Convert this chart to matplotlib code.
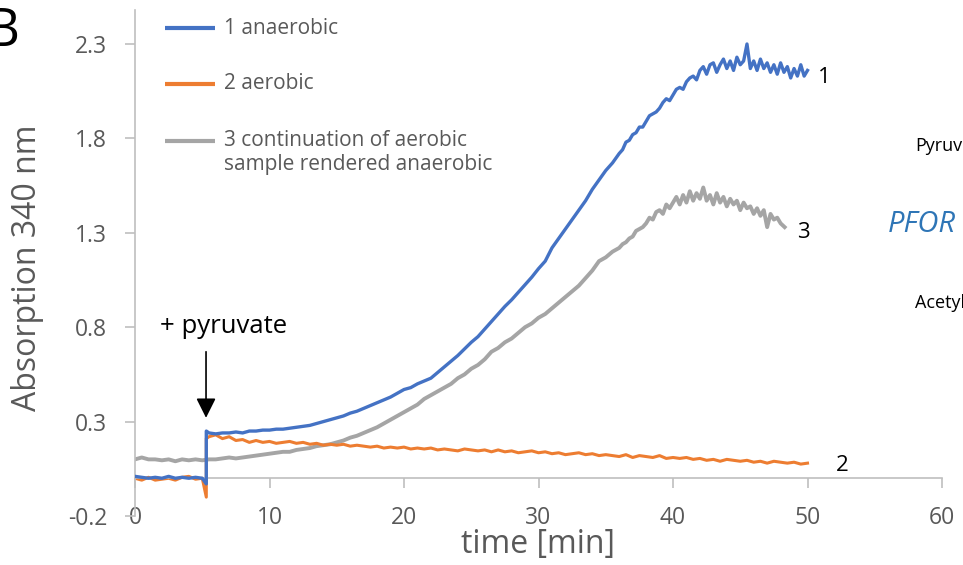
import numpy as np
import matplotlib
matplotlib.use("Agg")
import matplotlib.pyplot as plt

plt.rcParams['font.family'] = ['Open Sans', 'DejaVu Sans']
plt.rcParams['axes.unicode_minus'] = False

BLUE = '#4472c4'
ORANGE = '#ed7d31'
GREY = '#a5a5a5'
AXIS = '#bfbfbf'
TEXT = '#595959'

# time points [min]; readings are denser towards the end of the runs
t_pre = [0, 0.5, 1, 1.5, 2, 2.5, 3, 3.5, 4, 4.5, 5, 5.3]
t_post = [5.3] + list(np.arange(5.5, 50.01, 0.5))
t_post_blue = [5.3] + list(np.arange(5.5, 35.51, 0.5)) + list(np.arange(36, 50.01, 0.25))
t_cont = list(np.arange(0, 36.01, 0.5)) + list(np.arange(36.25, 48.01, 0.25)) + [48.3]

# 1 anaerobic
blue_pre = [0.01, 0.005, 0.0, 0.005, 0.0, 0.01, 0.0, 0.005, 0.0, 0.005, 0.0, -0.03]
blue_post = [
    0.25, 0.24,
    0.235, 0.24, 0.24, 0.245, 0.24, 0.25, 0.25, 0.255, 0.255, 0.26,
    0.26, 0.265, 0.27, 0.275, 0.28, 0.29, 0.30, 0.31, 0.32, 0.33,
    0.345, 0.355, 0.37, 0.385, 0.40, 0.415, 0.43, 0.45, 0.47, 0.48,
    0.50, 0.515, 0.53, 0.56, 0.59, 0.62, 0.65, 0.685, 0.72, 0.75,
    0.79, 0.83, 0.87, 0.91, 0.945, 0.985, 1.025, 1.065, 1.11, 1.15,
    1.22, 1.27, 1.32, 1.37, 1.42, 1.47, 1.53, 1.58, 1.63, 1.67,
    # from 36 min on, every 15 s
    1.72, 1.74, 1.78, 1.79, 1.82, 1.83, 1.86, 1.86,
    1.89, 1.92, 1.93, 1.94, 1.96, 1.99, 2.01, 2.00,
    2.03, 2.06, 2.07, 2.06, 2.10, 2.12, 2.13, 2.11,
    2.16, 2.18, 2.14, 2.19, 2.20, 2.15, 2.19, 2.22,
    2.17, 2.21, 2.16, 2.23, 2.19, 2.21, 2.30, 2.17,
    2.21, 2.16, 2.22, 2.17, 2.20, 2.15, 2.19, 2.14,
    2.20, 2.15, 2.18, 2.12, 2.17, 2.13, 2.19, 2.13,
    2.16,
]

# 2 aerobic
orange_pre = [0.0, -0.01, 0.005, -0.01, -0.005, 0.0, -0.01, 0.005, 0.01, -0.005, 0.0, -0.10]
orange_post = [
    0.21, 0.22,
    0.23, 0.21, 0.22, 0.20, 0.205, 0.19, 0.20, 0.19, 0.195, 0.185,
    0.19, 0.195, 0.185, 0.19, 0.18, 0.185, 0.175, 0.18, 0.175, 0.18,
    0.17, 0.175, 0.17, 0.165, 0.17, 0.16, 0.165, 0.16, 0.165, 0.155,
    0.16, 0.155, 0.16, 0.15, 0.155, 0.15, 0.145, 0.155, 0.15, 0.145,
    0.15, 0.14, 0.15, 0.14, 0.145, 0.135, 0.14, 0.145, 0.135, 0.14,
    0.13, 0.135, 0.125, 0.13, 0.135, 0.125, 0.13, 0.12, 0.125, 0.12,
    0.115, 0.125, 0.11, 0.12, 0.115, 0.11, 0.12, 0.105, 0.11, 0.105,
    0.11, 0.10, 0.105, 0.095, 0.10, 0.09, 0.10, 0.095, 0.09, 0.095,
    0.085, 0.09, 0.08, 0.09, 0.085, 0.08, 0.085, 0.075, 0.08,
]

# 3 continuation of aerobic sample rendered anaerobic
grey_cont = [
    0.10, 0.11, 0.10, 0.10, 0.095, 0.10, 0.09, 0.10, 0.095, 0.10,
    0.095, 0.10, 0.10, 0.105, 0.11, 0.105, 0.11, 0.115, 0.12, 0.125,
    0.13, 0.135, 0.14, 0.14, 0.15, 0.155, 0.16, 0.17, 0.175, 0.18,
    0.19, 0.20, 0.215, 0.225, 0.24, 0.255, 0.27, 0.29, 0.31, 0.33,
    0.35, 0.37, 0.39, 0.42, 0.44, 0.46, 0.48, 0.50, 0.53, 0.55,
    0.58, 0.60, 0.63, 0.67, 0.69, 0.72, 0.74, 0.77, 0.80, 0.82,
    0.85, 0.87, 0.90, 0.93, 0.96, 0.99, 1.02, 1.06, 1.10, 1.15,
    1.17, 1.20, 1.22,
    # from 36 min on, every 15 s
    1.24, 1.25, 1.27,
    1.28, 1.31, 1.32, 1.33, 1.35, 1.38, 1.37, 1.41,
    1.42, 1.40, 1.45, 1.43, 1.46, 1.49, 1.45, 1.50,
    1.46, 1.52, 1.47, 1.51, 1.48, 1.54, 1.47, 1.50,
    1.45, 1.51, 1.46, 1.49, 1.44, 1.48, 1.45, 1.47,
    1.42, 1.46, 1.43, 1.44, 1.40, 1.43, 1.39, 1.42,
    1.33, 1.40, 1.37, 1.38, 1.35,
    1.33,
]

x_ticks = [0, 10, 20, 30, 40, 50, 60]
y_ticks = [-0.2, 0.3, 0.8, 1.3, 1.8, 2.3]

legend_labels = ['1 anaerobic', '2 aerobic',
                 '3 continuation of aerobic\nsample rendered anaerobic']
colours = [BLUE, ORANGE, GREY]

fig = plt.figure(figsize=(9.63, 5.65), dpi=100)
ax = fig.add_axes([0.1402, 0.0867, 0.838, 0.8956])

ax.plot(t_pre + t_post_blue, blue_pre + blue_post, color=BLUE, lw=2.4, zorder=3)
ax.plot(t_pre + t_post, orange_pre + orange_post, color=ORANGE, lw=2.2, zorder=2)
ax.plot(t_cont, grey_cont, color=GREY, lw=2.8, zorder=1)

ax.set_xlim(0, 60)
ax.set_ylim(-0.2, 2.48)
ax.spines[['top', 'right']].set_visible(False)
ax.spines['bottom'].set_position(('data', 0))
for s in ('left', 'bottom'):
    ax.spines[s].set_color(AXIS)
    ax.spines[s].set_linewidth(1.2)

ax.set_xticks(x_ticks)
ax.set_yticks(y_ticks, labels=[f'{v:.1f}' for v in y_ticks])
ax.tick_params(colors=AXIS, labelcolor=TEXT, length=7, width=1.2, labelsize=16.5)
ax.tick_params(axis='x', pad=13)
ax.tick_params(axis='y', pad=13)

# curve numbers at the ends of the traces
ax.text(50.8, 2.12, '1', fontsize=16, va='center', ha='left')
ax.text(52.1, 0.066, '2', fontsize=16, va='center', ha='left')
ax.text(49.2, 1.30, '3', fontsize=16, va='center', ha='left')

# pyruvate addition
ax.annotate('', xy=(5.28, 0.32), xytext=(5.28, 0.67),
            arrowprops=dict(arrowstyle='-|>,head_length=0.6,head_width=0.3',
                            color='black', lw=1.2, mutation_scale=20,
                            shrinkA=0, shrinkB=0))
ax.text(6.6, 0.805, '+ pyruvate', fontsize=18.5, ha='center', va='center')

# legend drawn inside the plot area
leg_y = [0.9644, 0.8538, 0.7411]
for lab, c, y in zip(legend_labels, colours, leg_y):
    ax.plot([0.0372, 0.0991], [y, y], transform=ax.transAxes, color=c,
            lw=3, solid_capstyle='butt', clip_on=False)
    if '\n' in lab:
        ax.text(0.110, y + 0.022, lab, transform=ax.transAxes, fontsize=15,
                color=TEXT, va='top', linespacing=1.2)
    else:
        ax.text(0.110, y, lab, transform=ax.transAxes, fontsize=15,
                color=TEXT, va='center')

fig.text(27 / 963, 1 - 268 / 565, 'Absorption 340 nm', rotation=90,
         fontsize=23, color=TEXT, ha='center', va='center')
fig.text(538 / 963, 1 - 545 / 565, 'time [min]', fontsize=23, color=TEXT,
         ha='center', va='center')
fig.text(20 / 963, 1 - 32 / 565, 'B', fontsize=38, ha='right', va='center')

# scheme on the right, cut at the figure edge
fig.text(915 / 963, 1 - 146 / 565, 'Pyruvate', fontsize=13, va='center')
fig.text(888 / 963, 1 - 225 / 565, 'PFOR', fontsize=21, style='italic',
         color='#2e75b6', va='center')
fig.text(915 / 963, 1 - 303 / 565, 'Acetyl-CoA', fontsize=13, va='center')

fig.savefig('out.png', dpi=100)
